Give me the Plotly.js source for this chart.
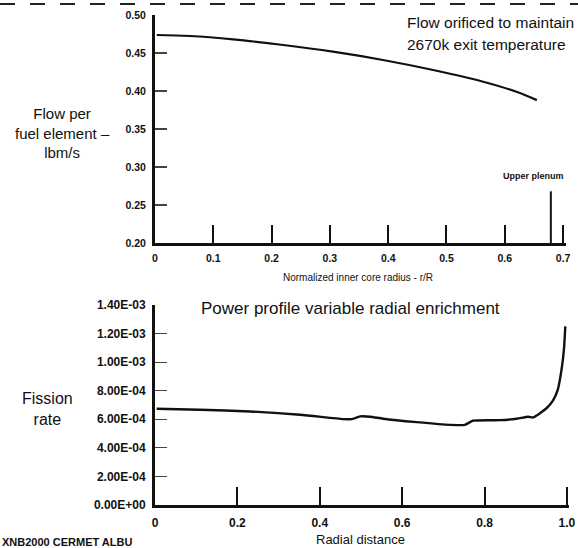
<!DOCTYPE html>
<html>
<head>
<meta charset="utf-8">
<script src="https://cdn.plot.ly/plotly-3.0.1.min.js"></script>
<style>html,body{margin:0;padding:0;background:#fff;}#chart{width:578px;height:548px;}</style>
</head>
<body>
<div id="chart"></div>
<script>
// Top panel: flow per fuel element vs normalized inner core radius
const flowR = [0.003, 0.060, 0.134, 0.220, 0.305, 0.391, 0.477, 0.563, 0.620, 0.655];
const flowVal = [0.4737, 0.4724, 0.468, 0.4605, 0.4517, 0.4408, 0.4276, 0.4122, 0.399, 0.388];
const flowXTicks = [0, 0.1, 0.2, 0.3, 0.4, 0.5, 0.6, 0.7];
const flowXLabels = ["0", "0.1", "0.2", "0.3", "0.4", "0.5", "0.6", "0.7"];
const flowYTicks = [0.20, 0.25, 0.30, 0.35, 0.40, 0.45, 0.50];
const flowYLabels = ["0.20", "0.25", "0.30", "0.35", "0.40", "0.45", "0.50"];
const upperPlenumR = 0.679;
const upperPlenumTop = 0.268;

// Bottom panel: fission rate vs radial distance
const radDist = [0.004, 0.109, 0.231, 0.352, 0.457, 0.477, 0.498, 0.522, 0.554, 0.635, 0.716, 0.752, 0.772, 0.837, 0.878, 0.906, 0.918, 0.951, 0.966, 0.978, 0.988, 0.993, 0.996];
const fission = [6.74e-4, 6.67e-4, 6.55e-4, 6.32e-4, 6.01e-4, 6.01e-4, 6.20e-4, 6.18e-4, 6.04e-4, 5.80e-4, 5.61e-4, 5.61e-4, 5.90e-4, 5.94e-4, 6.04e-4, 6.18e-4, 6.13e-4, 6.79e-4, 7.3e-4, 8.1e-4, 9.7e-4, 1.10e-3, 1.25e-3];
const fisXTicks = [0, 0.2, 0.4, 0.6, 0.8, 1.0];
const fisXLabels = ["0", "0.2", "0.4", "0.6", "0.8", "1.0"];
const fisYTicks = [0, 2e-4, 4e-4, 6e-4, 8e-4, 1e-3, 1.2e-3, 1.4e-3];
const fisYLabels = ["0.00E+00", "2.00E-04", "4.00E-04", "6.00E-04", "8.00E-04", "1.00E-03", "1.20E-03", "1.40E-03"];

const FONT = "Liberation Sans, Arial, Helvetica, sans-serif";
const W = 578, H = 548;
const px = v => v / W;
const py = v => (H - v) / H;

const traces = [
  {x: flowR, y: flowVal, xaxis: 'x', yaxis: 'y', mode: 'lines',
   line: {color: '#111', width: 2.2, shape: 'spline'}, hoverinfo: 'skip'},
  {x: radDist, y: fission, xaxis: 'x2', yaxis: 'y2', mode: 'lines',
   line: {color: '#111', width: 2.4, shape: 'spline', smoothing: 0.6}, hoverinfo: 'skip'}
];

const tickFont = {family: FONT, size: 10.5, color: '#111', weight: 700};

const layout = {
  width: W, height: H,
  margin: {l: 0, r: 0, t: 0, b: 0},
  paper_bgcolor: '#fff', plot_bgcolor: '#fff',
  showlegend: false,
  xaxis: {
    domain: [px(155), px(566)], anchor: 'y', range: [0, 0.705],
    tickvals: flowXTicks, ticktext: flowXLabels,
    ticks: 'inside', ticklen: 18, tickwidth: 2, tickcolor: '#111',
    showline: true, linecolor: '#111', linewidth: 2.5,
    showgrid: false, zeroline: false, tickfont: tickFont, ticklabelstandoff: 4
  },
  yaxis: {
    domain: [py(243), py(15)], anchor: 'x', range: [0.2, 0.5],
    tickvals: flowYTicks, ticktext: flowYLabels,
    ticks: 'inside', ticklen: 12, tickwidth: 1.2, tickcolor: '#444',
    showline: true, linecolor: '#111', linewidth: 3,
    showgrid: false, zeroline: false, tickfont: tickFont, ticklabelstandoff: 4
  },
  xaxis2: {
    domain: [px(155), px(569)], anchor: 'y2', range: [0, 1.005],
    tickvals: fisXTicks, ticktext: fisXLabels,
    ticks: 'inside', ticklen: 18, tickwidth: 2, tickcolor: '#111',
    showline: true, linecolor: '#111', linewidth: 2.5,
    showgrid: false, zeroline: false,
    tickfont: {family: FONT, size: 12, color: '#111', weight: 700}, ticklabelstandoff: 5
  },
  yaxis2: {
    domain: [py(505), py(305)], anchor: 'x2', range: [0, 1.4e-3],
    tickvals: fisYTicks, ticktext: fisYLabels,
    ticks: 'inside', ticklen: 12, tickwidth: 1.2, tickcolor: '#444',
    showline: true, linecolor: '#111', linewidth: 3,
    showgrid: false, zeroline: false,
    tickfont: {family: FONT, size: 12, color: '#111', weight: 700}, ticklabelstandoff: 4
  },
  shapes: [
    {type: 'line', xref: 'x', yref: 'y', x0: upperPlenumR, x1: upperPlenumR, y0: 0.2, y1: upperPlenumTop,
     line: {color: '#111', width: 2}},
    {type: 'line', xref: 'paper', yref: 'paper', x0: 0, x1: 1, y0: py(4), y1: py(4),
     line: {color: '#222', width: 2, dash: 'longdash'}}
  ],
  annotations: [
    {xref: 'paper', yref: 'paper', x: px(405), y: py(23), xanchor: 'left', yanchor: 'middle',
     text: 'Flow orificed to maintain', showarrow: false, font: {family: FONT, size: 15.5, color: '#111'}},
    {xref: 'paper', yref: 'paper', x: px(405), y: py(45), xanchor: 'left', yanchor: 'middle',
     text: '2670k exit temperature', showarrow: false, font: {family: FONT, size: 15.5, color: '#111'}},
    {xref: 'paper', yref: 'paper', x: px(62), y: py(133), xanchor: 'center', yanchor: 'middle',
     text: 'Flow per<br>fuel element –<br>lbm/s', showarrow: false,
     font: {family: FONT, size: 15, color: '#111'}},
    {xref: 'paper', yref: 'paper', x: px(533), y: py(176), xanchor: 'center', yanchor: 'middle',
     text: 'Upper plenum', showarrow: false, font: {family: FONT, size: 9, color: '#111', weight: 700}},
    {xref: 'paper', yref: 'paper', x: px(358), y: py(277), xanchor: 'center', yanchor: 'middle',
     text: 'Normalized inner core radius - r/R', showarrow: false,
     font: {family: FONT, size: 10, color: '#111'}},
    {xref: 'paper', yref: 'paper', x: px(350), y: py(308), xanchor: 'center', yanchor: 'middle',
     text: 'Power profile variable radial enrichment', showarrow: false,
     font: {family: FONT, size: 17, color: '#111'}},
    {xref: 'paper', yref: 'paper', x: px(47), y: py(409), xanchor: 'center', yanchor: 'middle',
     text: 'Fission<br>rate', showarrow: false, font: {family: FONT, size: 16, color: '#111'}},
    {xref: 'paper', yref: 'paper', x: px(360), y: py(539), xanchor: 'center', yanchor: 'middle',
     text: 'Radial distance', showarrow: false, font: {family: FONT, size: 13, color: '#111'}},
    {xref: 'paper', yref: 'paper', x: 0, y: py(534), xanchor: 'left', yanchor: 'top',
     text: 'XNB2000 CERMET ALBU', showarrow: false, font: {family: FONT, size: 11, color: '#111', weight: 700}}
  ]
};

Plotly.newPlot('chart', traces, layout, {staticPlot: true, displayModeBar: false});
</script>
</body>
</html>
